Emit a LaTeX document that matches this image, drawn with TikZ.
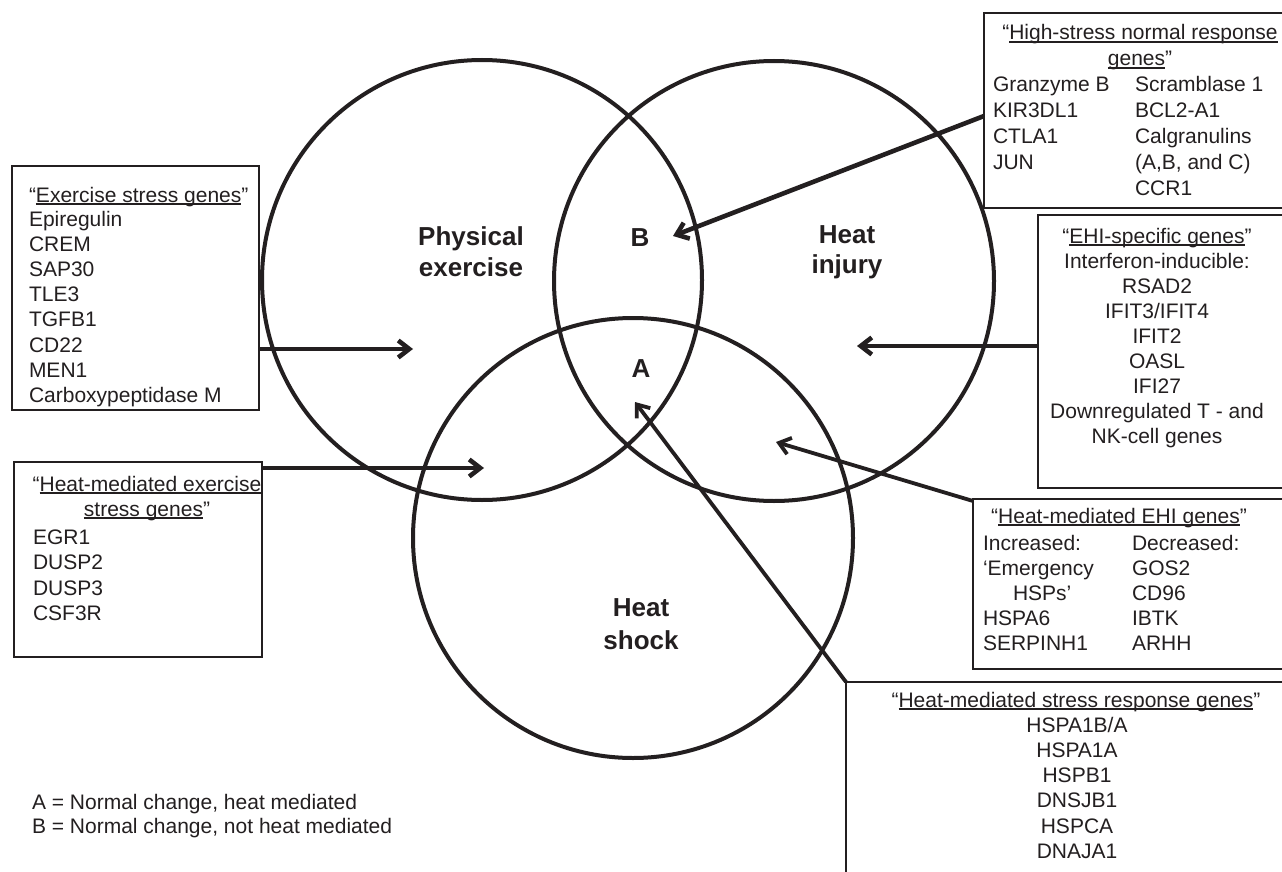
\documentclass[tikz,border=0pt]{standalone}
\usepackage{fontspec}
\setmainfont{Liberation Sans}
\usetikzlibrary{arrows.meta,calc}
\definecolor{ink}{RGB}{35,31,32}
\newcommand\uln[1]{\setbox0=\hbox{#1}\rlap{\rule[-2.6pt]{\wd0}{1.3pt}}\box0}
\begin{document}
\begin{tikzpicture}[x=1pt,y=-1pt,
  every node/.style={inner sep=0pt, outer sep=0pt, text=ink},
  txt/.style={anchor=base west, font=\fontsize{21}{25}\selectfont},
  ctxt/.style={anchor=base, font=\fontsize{21}{25}\selectfont},
  lbl/.style={anchor=base, font=\fontsize{26}{31}\selectfont\bfseries},
  gbox/.style={draw=ink, line width=1.3pt, anchor=north west},
  venn/.style={draw=ink, line width=4pt, circle, minimum size=440pt},
  arr/.style={draw=ink, line width=4.6pt, -{Straight Barb[length=11pt,width=17pt]}},
  arrthin/.style={draw=ink, line width=3.8pt, -{Straight Barb[length=11pt,width=17pt]}}
]
\clip (0,0) rectangle (1282,872);
\fill[white] (0,0) rectangle (1282,872);

% Venn circles
\node[venn] (pe) at (482,280) {};
\node[venn] (hi) at (774,281) {};
\node[venn] (hs) at (633,538) {};

% Circle labels
\node[lbl] (lpe1) at (471,245) {Physical};
\node[lbl] (lpe2) at (471,276) {exercise};
\node[lbl] (lhi1) at (847,243) {Heat};
\node[lbl] (lhi2) at (847,273) {injury};
\node[lbl] (lhs1) at (641,616) {Heat};
\node[lbl] (lhs2) at (641,649) {shock};
\node[lbl] (lB) at (640,246) {B};
\node[lbl] (lA) at (641,377) {A};

% Boxes
\node[gbox, minimum width=310pt, minimum height=195pt] (hsbox) at (984,13) {};
\node[gbox, minimum width=247pt, minimum height=244pt] (exbox) at (12,166) {};
\node[gbox, minimum width=260pt, minimum height=273pt] (ehibox) at (1038,215) {};
\node[gbox, minimum width=248pt, minimum height=195pt] (hmexbox) at (14,462) {};
\node[gbox, minimum width=320pt, minimum height=170pt] (hmehibox) at (973,499) {};
\node[gbox, minimum width=450pt, minimum height=220pt] (hmsrbox) at (846,682) {};

% High-stress normal response genes
\node[ctxt] (hst1) at (1140,40) {“\uln{High-stress normal response}};
\node[ctxt] (hst2) at (1140,66) {\uln{genes}”};
\foreach \t [count=\i] in {Granzyme B, KIR3DL1, CTLA1, JUN}
  \node[txt] (hsl\i) at (993,{92+25.9*(\i-1)}) {\t};
\foreach \t [count=\i] in {Scramblase 1, BCL2-A1, Calgranulins, {(A,B, and C)}, CCR1}
  \node[txt] (hsr\i) at (1135,{92+25.9*(\i-1)}) {\t};

% Exercise stress genes
\node[txt] (ext) at (29,202) {“\uln{Exercise stress genes}”};
\foreach \t [count=\i] in {Epiregulin, CREM, SAP30, TLE3, TGFB1, CD22, MEN1, Carboxypeptidase M}
  \node[txt] (ex\i) at (29,{226+25.2*(\i-1)}) {\t};

% EHI-specific genes
\node[ctxt] (ehit) at (1157,243) {“\uln{EHI-specific genes}”};
\foreach \t [count=\i] in {Interferon-inducible:, RSAD2, IFIT3/IFIT4, IFIT2, OASL, IFI27, Downregulated T - and, NK-cell genes}
  \node[ctxt] (ehi\i) at (1157,{268+25.1*(\i-1)}) {\t};

% Heat-mediated exercise stress genes
\node[ctxt] (hmext1) at (147,491) {“\uln{Heat-mediated exercise}};
\node[ctxt] (hmext2) at (147,516) {\uln{stress genes}”};
\foreach \t [count=\i] in {EGR1, DUSP2, DUSP3, CSF3R}
  \node[txt] (hmex\i) at (33,{544+25.6*(\i-1)}) {\t};

% Heat-mediated EHI genes
\node[ctxt] (hmehit) at (1119,523) {“\uln{Heat-mediated EHI genes}”};
\node[txt] (hmehil1) at (983,550) {Increased:};
\node[txt] (hmehil2) at (983,575) {‘Emergency};
\node[txt] (hmehil3) at (1013,600) {HSPs’};
\node[txt] (hmehil4) at (983,625) {HSPA6};
\node[txt] (hmehil5) at (983,650) {SERPINH1};
\foreach \t [count=\i] in {Decreased:, GOS2, CD96, IBTK, ARHH}
  \node[txt] (hmehir\i) at (1132,{550+25*(\i-1)}) {\t};

% Heat-mediated stress response genes
\node[ctxt] (hmsrt) at (1076,707) {“\uln{Heat-mediated stress response genes}”};
\foreach \t [count=\i] in {HSPA1B/A, HSPA1A, HSPB1, DNSJB1, HSPCA, DNAJA1}
  \node[ctxt] (hmsr\i) at (1077,{732+25.3*(\i-1)}) {\t};

% Legend
\node[txt] (legA) at (32,809) {A = Normal change, heat mediated};
\node[txt] (legB) at (32,833) {B = Normal change, not heat mediated};

% Arrow targets
\coordinate (tpe) at (413,349);
\coordinate (thx) at (484,468);
\coordinate (thi) at (857,346);
\coordinate (thh) at (776,442);
\coordinate (tA) at (635,402);
\coordinate (tB) at (673,236);

% Arrows
\draw[arr] (exbox.east |- tpe) -- (tpe);
\draw[arr] (hmexbox.east |- thx) -- (thx);
\draw[arr] (ehibox.west |- thi) -- (thi);
\draw[arr] ($(hsbox.north west)+(0,103)$) -- (tB);
\draw[arrthin] ($(hmehibox.north west)+(0,2)$) -- (thh);
\draw[arrthin] (hmsrbox.north west) -- (tA);
\end{tikzpicture}
\end{document}
